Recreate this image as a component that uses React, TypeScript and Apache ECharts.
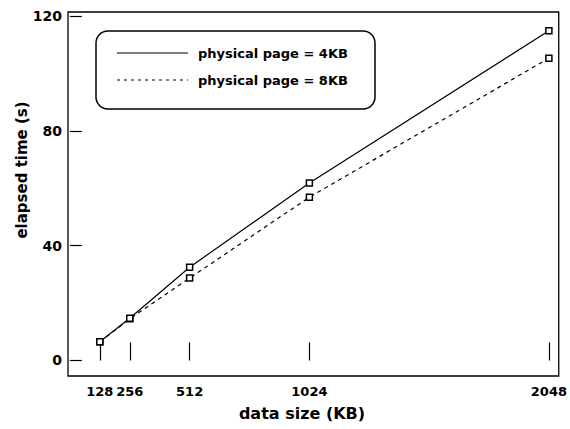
import React, { useEffect, useRef } from "react";
import * as echarts from "echarts";

const dataSizes = [128, 256, 512, 1024, 2048];
const time4KB = [6.5, 14.7, 32.5, 61.8, 114.9];
const time8KB = [6.5, 14.5, 28.7, 56.9, 105.3];
const xTicks = [128, 256, 512, 1024, 2048];
const yTicks = [0, 40, 80, 120];
const seriesNames = ["physical page = 4KB", "physical page = 8KB"];
const xTitle = "data size (KB)";
const yTitle = "elapsed time (s)";

const FONT = "DejaVu Sans";

export default function App() {
  const ref = useRef<HTMLDivElement>(null);
  useEffect(() => {
    if (!ref.current) return;
    const chart = echarts.init(ref.current, null, { renderer: "svg" });
    const markerStyle = { color: "#fff", borderColor: "#000", borderWidth: 1.5 };
    chart.setOption({
      animation: false,
      backgroundColor: "#fff",
      grid: {
        left: 68,
        right: 6,
        top: 12,
        bottom: 53,
        show: true,
        borderColor: "#000",
        borderWidth: 1.3,
      },
      xAxis: {
        type: "value",
        min: -8,
        max: 2090,
        axisLine: { show: false },
        splitLine: { show: false },
        axisTick: {
          show: true,
          inside: true,
          length: 18,
          customValues: xTicks,
          lineStyle: { color: "#000", width: 1.2 },
        },
        axisLabel: {
          customValues: xTicks,
          formatter: (v: number) => String(v),
          fontFamily: FONT,
          fontWeight: "bold",
          fontSize: 13,
          color: "#000",
          margin: 9,
        },
      },
      yAxis: {
        type: "value",
        min: -5.4,
        max: 121.4,
        axisLine: { show: false },
        splitLine: { show: false },
        axisTick: {
          show: true,
          inside: true,
          length: 12,
          customValues: yTicks,
          lineStyle: { color: "#000", width: 1.2 },
        },
        axisLabel: {
          customValues: yTicks,
          formatter: (v: number) => String(v),
          fontFamily: FONT,
          fontWeight: "bold",
          fontSize: 14,
          color: "#000",
          margin: 6,
        },
      },
      series: [
        {
          name: seriesNames[1],
          type: "line",
          data: dataSizes.map((s, i) => [s, time8KB[i]]),
          symbol: "rect",
          symbolSize: 6,
          itemStyle: markerStyle,
          lineStyle: { color: "#000", width: 1.2, type: [4, 4] },
          z: 2,
        },
        {
          name: seriesNames[0],
          type: "line",
          data: dataSizes.map((s, i) => [s, time4KB[i]]),
          symbol: "rect",
          symbolSize: 6,
          itemStyle: markerStyle,
          lineStyle: { color: "#000", width: 1.2, type: "solid" },
          z: 3,
        },
      ],
      graphic: [
        {
          type: "rect",
          shape: { x: 96, y: 31, width: 279, height: 78, r: 12 },
          style: { fill: "#fff", stroke: "#000", lineWidth: 1.5 },
          z: 10,
        },
        {
          type: "line",
          shape: { x1: 117, y1: 53, x2: 188, y2: 53 },
          style: { stroke: "#000", lineWidth: 1.2 },
          z: 11,
        },
        {
          type: "line",
          shape: { x1: 117, y1: 80, x2: 188, y2: 80 },
          style: { stroke: "#000", lineWidth: 1.2, lineDash: [3, 4] },
          z: 11,
        },
        {
          type: "text",
          x: 198,
          y: 53,
          style: {
            text: seriesNames[0],
            fontFamily: FONT,
            fontWeight: "bold",
            fontSize: 13,
            fill: "#000",
            verticalAlign: "middle",
            align: "left",
          },
          z: 11,
        },
        {
          type: "text",
          x: 198,
          y: 80,
          style: {
            text: seriesNames[1],
            fontFamily: FONT,
            fontWeight: "bold",
            fontSize: 13,
            fill: "#000",
            verticalAlign: "middle",
            align: "left",
          },
          z: 11,
        },
        {
          type: "text",
          x: 302,
          y: 413,
          style: {
            text: xTitle,
            fontFamily: FONT,
            fontWeight: "bold",
            fontSize: 16,
            fill: "#000",
            verticalAlign: "middle",
            align: "center",
          },
        },
        {
          type: "text",
          x: 22,
          y: 170,
          rotation: Math.PI / 2,
          style: {
            text: yTitle,
            fontFamily: FONT,
            fontWeight: "bold",
            fontSize: 15,
            fill: "#000",
            verticalAlign: "middle",
            align: "center",
          },
        },
      ],
    });
    return () => chart.dispose();
  }, []);
  return (
    <div
      ref={ref}
      style={{ position: "fixed", left: 0, top: 0, width: 570, height: 429 }}
    />
  );
}
